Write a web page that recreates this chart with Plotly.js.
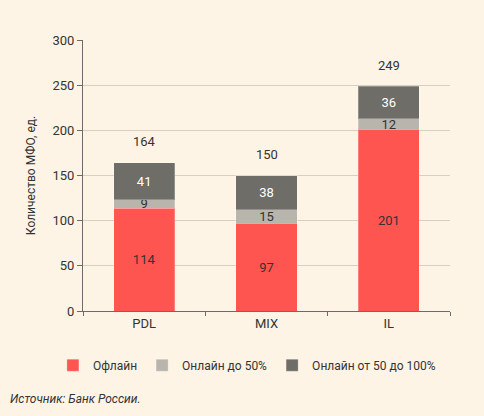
<!DOCTYPE html>
<html>
<head>
<meta charset="utf-8">
<script src="https://cdn.plot.ly/plotly-3.0.1.min.js"></script>
<style>
html,body{margin:0;padding:0;background:#FEF4E6;}
#chart{width:484px;height:416px;}
</style>
</head>
<body>
<div id="chart"></div>
<script>
const categories = ["PDL", "MIX", "IL"];
const offline = [114, 97, 201];
const onlineTo50 = [9, 15, 12];
const online50to100 = [41, 38, 36];
const totals = [164, 150, 249];
const seriesNames = ["Офлайн", "Онлайн до 50%", "Онлайн от 50 до 100%"];
const yTicks = [0, 50, 100, 150, 200, 250, 300];

const font = "Roboto, 'Liberation Sans', sans-serif";
const colors = ["#FF5551", "#B9B5AC", "#6E6D67"];
const textColors = ["#333333", "#333333", "#FFFFFF"];
const values = [offline, onlineTo50, online50to100];

const traces = values.map((v, i) => ({
  type: "bar",
  name: seriesNames[i],
  x: categories,
  y: v,
  text: v.map(String),
  textposition: "inside",
  insidetextanchor: "middle",
  textangle: 0,
  constraintext: "none",
  textfont: {family: font, size: 13, color: textColors[i]},
  marker: {color: colors[i], line: {color: "rgba(255,255,255,0.25)", width: 1}},
  hoverinfo: "skip"
}));

const annotations = categories.map((c, i) => ({
  x: c, y: totals[i], xref: "x", yref: "y",
  text: String(totals[i]), showarrow: false, yshift: 21,
  font: {family: font, size: 13, color: "#333333"}
}));
annotations.push({
  xref: "paper", yref: "paper", x: -0.204, y: -0.325,
  xanchor: "left", yanchor: "middle",
  text: "<i>Источник: Банк России.</i>", showarrow: false,
  font: {family: font, size: 12, color: "#333333"}
});

const layout = {
  width: 484, height: 416,
  margin: {l: 83, r: 34, t: 40, b: 105},
  paper_bgcolor: "#FEF4E6",
  plot_bgcolor: "#FEF4E6",
  barmode: "stack",
  bargap: 0.5,
  font: {family: font, size: 13, color: "#333333"},
  xaxis: {
    type: "category",
    showline: true, linecolor: "#6b6b6b", linewidth: 1,
    ticks: "outside", ticklen: 4, tickcolor: "#6b6b6b",
    tickson: "boundaries",
    showgrid: false, zeroline: false,
    tickfont: {family: font, size: 13, color: "#333333"}
  },
  yaxis: {
    range: [0, 300],
    tickvals: yTicks,
    showline: true, linecolor: "#6b6b6b", linewidth: 1,
    ticks: "outside", ticklen: 5, tickcolor: "#6b6b6b",
    showgrid: true, gridcolor: "#D8CFC3", gridwidth: 1,
    zeroline: false,
    tickfont: {family: font, size: 13, color: "#333333"},
    title: {text: "Количество МФО, ед.", standoff: 14, font: {family: font, size: 12, color: "#333333"}}
  },
  legend: {
    orientation: "h",
    x: -0.082, xanchor: "left",
    y: -0.2, yanchor: "middle",
    font: {family: font, size: 12, color: "#333333"},
    bgcolor: "rgba(0,0,0,0)",
    traceorder: "normal"
  },
  annotations: annotations,
  showlegend: true
};

Plotly.newPlot("chart", traces, layout, {displayModeBar: false, staticPlot: true});
</script>
</body>
</html>
